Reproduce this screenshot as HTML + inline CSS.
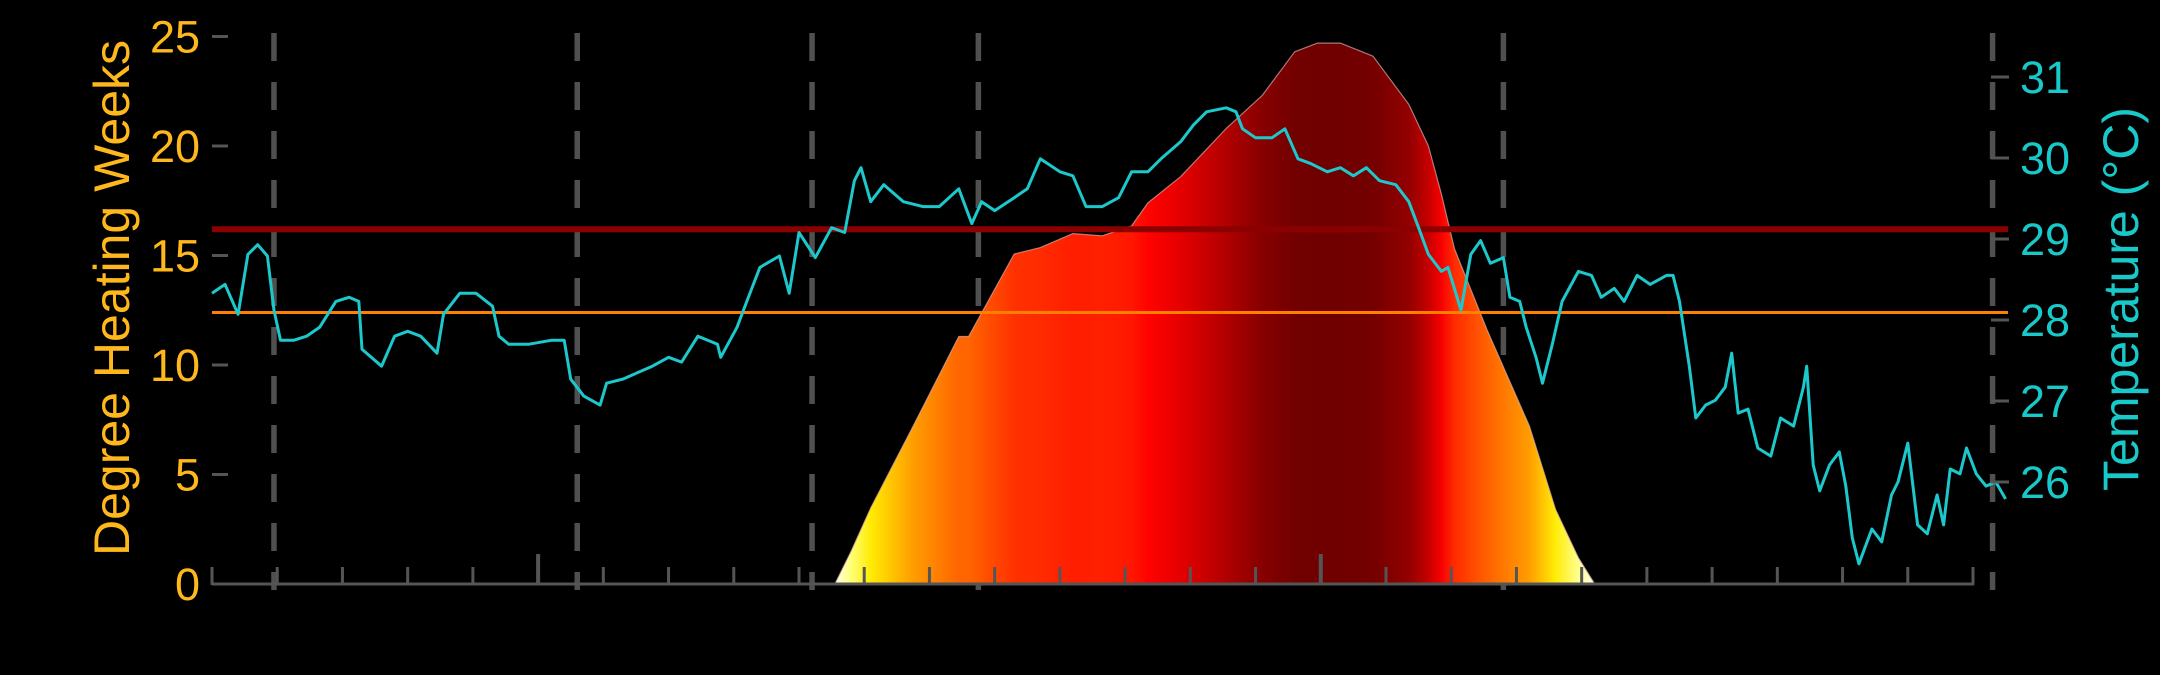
<!DOCTYPE html>
<html><head><meta charset="utf-8">
<style>
html,body{margin:0;padding:0;background:#000;}
svg{display:block;}
text{font-family:"Liberation Sans",Arial,sans-serif;}
</style></head>
<body>
<svg id="chart" width="2160" height="675" viewBox="0 0 2160 675" xmlns="http://www.w3.org/2000/svg">
<rect width="2160" height="675" fill="#000"/>
<defs><linearGradient id="dhwGrad" gradientUnits="userSpaceOnUse" x1="0" y1="0" x2="1" y2="0"></linearGradient></defs>
<g id="vlines"></g>
<g id="area"></g>
<g id="thresholds"></g>
<g id="temp"></g>
<g id="axes"></g>
</svg>
<script>
// ---- data ----
const dhwDays = [191,196,202,215,229,232,246,254,264,273,282,287,297,311,322,332,339,346,356,367,373,377,381,391,404,412,419,424];
const dhwValues = [0,1.5,3.47,7.2,11.3,11.3,15.07,15.36,16.0,15.9,16.35,17.4,18.6,20.8,22.3,24.3,24.7,24.7,24.1,21.9,20.0,17.8,15.3,11.6,7.2,3.4,1.2,0];
const tempDays = [0,4,8,11,14,17,19,21,25,29,33,38,42,45,46,52,56,60,64,69,71,76,81,86,88,91,97,104,108,110,114,119,121,126,135,140,144,149,155,156,161,164,168,174,177,180,185,190,194,197,199,202,206,212,218,223,229,233,236,240,246,250,254,260,264,268,273,278,282,287,291,297,301,305,311,314,316,320,325,329,333,337,342,346,350,354,358,363,367,370,373,377,379,383,386,389,392,396,398,401,403,406,408,411,414,419,423,426,430,433,437,441,446,448,450,453,455,458,461,464,466,468,471,474,478,481,485,488,489,491,493,496,499,501,503,505,509,512,515,517,520,523,526,529,531,533,536,538,541,544,547,550];
const tempValues = [28.33,28.44,28.07,28.81,28.93,28.79,28.12,27.75,27.75,27.8,27.91,28.23,28.28,28.23,27.64,27.43,27.8,27.86,27.8,27.59,28.07,28.33,28.33,28.17,27.8,27.7,27.7,27.75,27.75,27.27,27.06,26.95,27.22,27.27,27.43,27.54,27.48,27.8,27.7,27.54,27.91,28.23,28.65,28.79,28.33,29.08,28.77,29.14,29.08,29.72,29.88,29.46,29.67,29.46,29.4,29.4,29.62,29.19,29.46,29.35,29.51,29.62,29.99,29.83,29.78,29.4,29.4,29.51,29.83,29.83,29.99,30.2,30.41,30.57,30.62,30.57,30.36,30.25,30.25,30.36,29.99,29.93,29.83,29.88,29.78,29.88,29.72,29.67,29.46,29.14,28.81,28.6,28.65,28.12,28.81,28.98,28.7,28.77,28.28,28.23,27.91,27.54,27.22,27.7,28.23,28.6,28.55,28.28,28.39,28.23,28.55,28.44,28.55,28.55,28.23,27.43,26.79,26.95,27.01,27.17,27.59,26.85,26.9,26.42,26.32,26.79,26.69,27.17,27.43,26.21,25.89,26.21,26.37,25.95,25.31,24.99,25.42,25.26,25.84,26.0,26.48,25.47,25.36,25.84,25.47,26.16,26.1,26.42,26.1,25.95,26.0,25.79];
const dividerDays = [19,112,184,235,396,546];
const leftTicks = [0,5,10,15,20,25];
const rightTicks = [26,27,28,29,30,31];
const thresholdValues = [16.2,12.4];
const thresholdColors = ["#8b0000","#ff7f00"];
const xTickDays = [0,20,40,60,80,100,120,140,160,180,200,220,240,260,280,300,320,340,360,380,400,420,440,460,480,500,520,540];
const majorTickDays = [100,340];

// ---- scales ----
const X0=212, X1=1973, D0=0, D1=540;
const xS = d => X0 + (d-D0)/(D1-D0)*(X1-X0);
const yL = v => 584 - v*21.9;
const yR = t => 482 - (t-26)*81;
const NS="http://www.w3.org/2000/svg";
function mk(tag, parent, attrs){const e=document.createElementNS(NS,tag);for(const k in attrs)e.setAttribute(k,attrs[k]);parent.appendChild(e);return e;}

function dhwColor(v){
  const stops=[[0,[255,255,235]],[1.5,[255,255,120]],[3.5,[255,235,0]],[7,[255,160,0]],[11,[255,105,0]],[15,[255,50,0]],[17.5,[255,0,0]],[20.5,[185,0,0]],[22.5,[130,0,0]],[24.5,[112,0,0]]];
  if(v<=stops[0][0]) return 'rgb('+stops[0][1].join(',')+')';
  for(let i=1;i<stops.length;i++){ if(v<=stops[i][0]){const a=stops[i-1],b=stops[i];const f=(v-a[0])/(b[0]-a[0]);return 'rgb('+a[1].map((c,j)=>Math.round(c+(b[1][j]-c)*f)).join(',')+')';}}
  return 'rgb('+stops[stops.length-1][1].join(',')+')';
}

// dividers
const gv=document.getElementById('vlines');
dividerDays.forEach(d=>{
  const l=mk('line',gv,{x1:xS(d),x2:xS(d),y1:33,y2:590,stroke:'#505050','stroke-width':5.5,'stroke-dasharray':'28 21'});
  
  
});

// area
const ga=document.getElementById('area');
const grad=document.getElementById('dhwGrad');
grad.setAttribute('x1',xS(dhwDays[0]));grad.setAttribute('x2',xS(dhwDays[dhwDays.length-1]));
const span=dhwDays[dhwDays.length-1]-dhwDays[0];
dhwDays.forEach((d,i)=>{mk('stop',grad,{offset:((d-dhwDays[0])/span).toFixed(4),'stop-color':dhwColor(dhwValues[i])});});
let p='M'+xS(dhwDays[0])+','+yL(0);
dhwDays.forEach((d,i)=>{p+=' L'+xS(d).toFixed(1)+','+yL(dhwValues[i]).toFixed(1);});
p+=' L'+xS(dhwDays[dhwDays.length-1])+','+yL(0)+' Z';
const area=mk('path',ga,{d:p,fill:'url(#dhwGrad)',stroke:'rgba(220,170,170,0.7)','stroke-width':1.2,'stroke-linejoin':'round'});



// thresholds
const gt=document.getElementById('thresholds');
thresholdValues.forEach((v,i)=>{
  const l=mk('line',gt,{x1:212,x2:2008,y1:yL(v),y2:yL(v),stroke:thresholdColors[i],'stroke-width':i===0?6:3});
  
  
});

// temperature
const gT=document.getElementById('temp');
const pts=tempDays.map((d,i)=>xS(d).toFixed(1)+','+yR(tempValues[i]).toFixed(1)).join(' ');
const tl=mk('polyline',gT,{points:pts,fill:'none',stroke:'#1cc8cc','stroke-width':3,'stroke-linejoin':'round'});



// axes
const gx=document.getElementById('axes');
const xa=mk('line',gx,{x1:212,x2:1974,y1:584,y2:584,stroke:'#555','stroke-width':3});


xTickDays.forEach(d=>{
  const major=majorTickDays.includes(d);
  const t=mk('line',gx,{x1:xS(d),x2:xS(d),y1:major?554:567,y2:585,stroke:'#555','stroke-width':major?4:3});
  
  
});
leftTicks.forEach(v=>{
  if(v>0){const t=mk('line',gx,{x1:212,x2:228,y1:yL(v),y2:yL(v),stroke:'#555','stroke-width':3});
  
  }
  const tx=mk('text',gx,{x:200,y:yL(v)+16,'text-anchor':'end','font-size':45,fill:'#ffb81c'});
  tx.textContent=v;
  
  
});
rightTicks.forEach(v=>{
  const t=mk('line',gx,{x1:1991,x2:2009,y1:yR(v),y2:yR(v),stroke:'#555','stroke-width':3});
  
  
  const tx=mk('text',gx,{x:2020,y:yR(v)+16,'font-size':45,fill:'#19c9c9'});
  tx.textContent=v;
  
  
});
const lt=mk('text',gx,{x:0,y:0,'text-anchor':'middle','font-size':50,fill:'#ffb81c',transform:'translate(129,298) rotate(-90)'});
lt.textContent='Degree Heating Weeks';


const rt=mk('text',gx,{x:0,y:0,'text-anchor':'middle','font-size':50,fill:'#19c9c9',transform:'translate(2138,299) rotate(-90)'});
rt.textContent='Temperature (°C)';


</script>
</body></html>
